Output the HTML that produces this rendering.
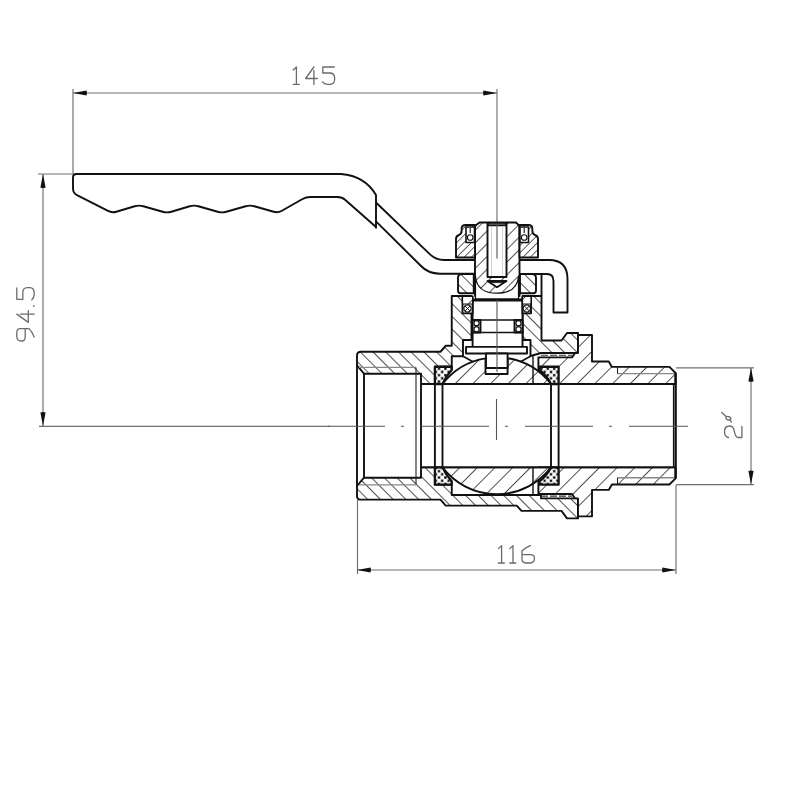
<!DOCTYPE html>
<html><head><meta charset="utf-8">
<style>html,body{margin:0;padding:0;background:#fff;}svg{display:block;}</style></head>
<body>
<svg width="800" height="800" viewBox="0 0 800 800">
<defs>
  <pattern id="hb" width="9" height="9" patternUnits="userSpaceOnUse" patternTransform="rotate(-45) translate(-3.6,0)">
    <rect x="-1" y="-1" width="11" height="11" fill="#fff"/>
    <line x1="0" y1="-1" x2="0" y2="10" stroke="#111" stroke-width="1.45"/>
  </pattern>
  <pattern id="hi" width="12.5" height="12.5" patternUnits="userSpaceOnUse" patternTransform="rotate(45) translate(5.2,0)">
    <rect x="-1" y="-1" width="14" height="14" fill="#fff"/>
    <line x1="0" y1="-1" x2="0" y2="14" stroke="#111" stroke-width="1.45"/>
  </pattern>
  <pattern id="hs" width="8.8" height="8.8" patternUnits="userSpaceOnUse" patternTransform="rotate(45)">
    <rect x="-1" y="-1" width="11" height="11" fill="#fff"/>
    <line x1="0" y1="-1" x2="0" y2="10" stroke="#111" stroke-width="1.45"/>
  </pattern>
  <pattern id="hn" width="5.2" height="5.2" patternUnits="userSpaceOnUse" patternTransform="rotate(45)">
    <rect x="-1" y="-1" width="8" height="8" fill="#fff"/>
    <line x1="0" y1="-1" x2="0" y2="7" stroke="#111" stroke-width="1.3"/>
  </pattern>
  <pattern id="hst" width="9" height="9" patternUnits="userSpaceOnUse" patternTransform="rotate(45) translate(3.3,0)">
    <rect x="-1" y="-1" width="11" height="11" fill="#fff"/>
    <line x1="0" y1="-1" x2="0" y2="10" stroke="#111" stroke-width="1.45"/>
  </pattern>
  <pattern id="hi2" width="12.5" height="12.5" patternUnits="userSpaceOnUse" patternTransform="rotate(45) translate(4.0,0)">
    <rect x="-1" y="-1" width="14" height="14" fill="#fff"/>
    <line x1="0" y1="-1" x2="0" y2="14" stroke="#111" stroke-width="1.45"/>
  </pattern>
  <pattern id="xh" width="6.4" height="6.4" patternUnits="userSpaceOnUse" patternTransform="translate(0.6,0.8)">
    <rect width="6.4" height="6.4" fill="#fff"/>
    <path d="M0,0 L6.4,6.4 M6.4,0 L0,6.4" stroke="#aaa" stroke-width="0.6"/>
    <circle cx="0" cy="0" r="1.3" fill="#111"/><circle cx="6.4" cy="0" r="1.3" fill="#111"/>
    <circle cx="0" cy="6.4" r="1.3" fill="#111"/><circle cx="6.4" cy="6.4" r="1.3" fill="#111"/>
    <circle cx="3.2" cy="3.2" r="1.3" fill="#111"/>
  </pattern>
  <path id="arr" d="M0,0 L-13.5,-2.6 Q-14.5,0 -13.5,2.6 Z" fill="#111"/>
</defs>

<g stroke="#707070" stroke-width="1.15" fill="none">
<line x1="73" y1="93" x2="497" y2="93"/>
<line x1="73" y1="89" x2="73" y2="174"/>
<line x1="43" y1="174" x2="43" y2="426"/>
<line x1="38" y1="174" x2="73" y2="174"/>
<line x1="39" y1="426.3" x2="330" y2="426.3"/>
<line x1="357.5" y1="570" x2="676" y2="570"/>
<line x1="357.5" y1="500" x2="357.5" y2="574"/>
<line x1="676" y1="485" x2="676" y2="574"/>
<line x1="751" y1="367.8" x2="751" y2="484.6"/>
<line x1="676" y1="367.8" x2="754" y2="367.8"/>
<line x1="676" y1="484.6" x2="754" y2="484.6"/>
</g>
<line x1="497" y1="89" x2="497" y2="258.5" stroke="#666" stroke-width="1.05"/>
<use href="#arr" transform="translate(73,93) rotate(180)"/>
<use href="#arr" transform="translate(497,93) rotate(0)"/>
<use href="#arr" transform="translate(43,174) rotate(-90)"/>
<use href="#arr" transform="translate(43,426) rotate(90)"/>
<use href="#arr" transform="translate(357,570) rotate(180)"/>
<use href="#arr" transform="translate(676,570) rotate(0)"/>
<use href="#arr" transform="translate(751,367.8) rotate(-90)"/>
<use href="#arr" transform="translate(751,484.6) rotate(90)"/>
<g stroke="#6a6a6a" stroke-width="1.3" fill="none" stroke-linecap="round" stroke-linejoin="round">
<path transform="translate(293.2,67)" d="M0,3 L3.2,0 L3.2,17.4 M0,17.4 L6,17.4"/>
<path transform="translate(305.6,67)" d="M8.3,0 L0,11.5 L11.7,11.5 M8.3,3.5 L8.3,17.4"/>
<path transform="translate(322.8,67)" d="M11.5,0 L0,0 L0,6 L7,6 Q11.6,6 11.8,10.5 L11.8,13 Q11.6,17.4 6.5,17.4 L5,17.4 Q2,17.4 -0.3,15"/>
<path transform="translate(498.4,545.6)" d="M0,3 L3.2,0 L3.2,17.4 M0,17.4 L6,17.4"/>
<path transform="translate(509.8,545.6)" d="M0,3 L3.2,0 L3.2,17.4 M0,17.4 L6,17.4"/>
<path transform="translate(522,545.6)" d="M8.4,0 Q3,2 0,5.1 L0,14 Q0,17.4 4,17.4 L8,17.4 Q12.4,17.4 12.4,13 L12.4,12 Q12.4,9 8,9 L0,9"/>
<path transform="translate(16.8,341) rotate(-90)" d="M4,17.4 Q9.4,15.4 12.4,12.3 L12.4,3.4 Q12.4,0 8.4,0 L4.4,0 Q0,0 0,4.4 L0,5.4 Q0,8.4 4.4,8.4 L12.4,8.4"/>
<path transform="translate(16.8,322.4) rotate(-90)" d="M8.3,0 L0,11.5 L11.7,11.5 M8.3,3.5 L8.3,17.4"/>
<path transform="translate(16.8,307) rotate(-90)" d="M0.6,16.6 L1.4,17.4"/>
<path transform="translate(16.8,299.4) rotate(-90)" d="M11.5,0 L0,0 L0,6 L7,6 Q11.6,6 11.8,10.5 L11.8,13 Q11.6,17.4 6.5,17.4 L5,17.4 Q2,17.4 -0.3,15"/>
<path transform="translate(724.5,438) rotate(-90)" d="M0.5,4 Q1,0 6.5,0 Q12,0 12,5 Q12,9 7,9.8 Q2,10.5 0.5,13 L0.5,17.4 L11.5,17.4"/>
<path transform="translate(722,421) rotate(-90)" d="M8.5,-0.2 L4.8,3.8 M1.2,7.8 L-1,9.5 M4.3,6.2 A2,1.5 -45 1 0 1.1,6.6 A2,1.5 -45 1 0 4.3,6.2"/>
</g>
<g stroke="#111" stroke-width="1.9" fill="none" stroke-linejoin="round">
<path d="M78,174 L341,174 Q365,176 376,195 L376,228.5"/>
<path d="M80,174 L76.50,174.00 Q73,174 73.00,177.50 L73.00,188.50 Q73,193 77.00,195.05 L108.00,210.95 Q112,213 116.31,211.72 L134.69,206.28 Q139,205 143.33,206.24 L162.67,211.76 Q167,213 171.31,211.72 L189.69,206.28 Q194,205 198.33,206.24 L217.67,211.76 Q222,213 226.33,211.76 L245.67,206.24 Q250,205 254.33,206.24 L273.67,211.76 Q278,213 281.91,210.77 L302.09,199.23 Q306,197 310.50,197.00 L337.50,197.00 Q342,197 345.37,199.98 L376,227"/>
<path d="M376,202.5 L430,254.4 Q436,260 444,260 L475,260"/>
<path d="M376,221.3 L420,265 Q428,273.7 440,273.7 L475,273.7"/>
<path d="M519.5,260 L549,260 Q567.5,260 567.5,279 L567.5,312.5 L553.5,312.5 L553.5,281 Q553.5,274 547,274 L519.5,274"/>
</g>
<path d="M357,365.4 L357,355.5 Q357,351.75 361,351.75 L440.5,351.75 L445.75,345.75 L451.75,345.75 L451.75,296 L471.5,296 L471.5,340 L463,340 L463,356.25 L451.75,356.25 L451.75,366.75 L434.9,366.75 L434.9,384 L421,384 L421,373.7 L364,373.7 Z" fill="url(#hb)" stroke="#111" stroke-width="1.9" stroke-linejoin="round" />
<path d="M522.6,296 L541.5,296 L541.5,340.5 L561.5,340.5 L567,333 L578,333 L578,353 L541,353 L530.5,356 L530.5,340 L522.6,340 Z" fill="url(#hb)" stroke="#111" stroke-width="1.9" stroke-linejoin="round" />
<path d="M 357,486.00 L 357,495.90 Q 357,499.65 361,499.65 L 440.5,499.65 L 445.75,505.65 L 516.7,505.65 L 521.5,510.90 L 561.5,510.90 L 567,518.40 L 578,518.40 L 578,498.40 L 541,498.40 L 541,495.00 L 451.75,495.00 L 451.75,484.65 L 434.9,484.65 L 434.9,467.40 L 421,467.40 L 421,477.70 L 364,477.70 Z" fill="url(#hb)" stroke="#111" stroke-width="1.9" stroke-linejoin="round" />
<path d="M538.4,384 L538.4,357.4 L572,357.4 L575,353 L578,353 L578,335 L592,335 L592,361.5 L608.75,361.5 L611.9,366.9 L669.4,366.9 L675.6,373 L675.6,384 Z" fill="url(#hi2)" stroke="#111" stroke-width="1.9" stroke-linejoin="round" />
<path d="M 538.4,467.40 L 538.4,494.00 L 572,494.00 L 575,498.40 L 578,498.40 L 578,516.40 L 592,516.40 L 592,489.90 L 608.75,489.90 L 611.9,484.50 L 669.4,484.50 L 675.6,478.40 L 675.6,467.40 Z" fill="url(#hi2)" stroke="#111" stroke-width="1.9" stroke-linejoin="round" />
<path d="M434.9,366.75 L451.75,366.75 L451.75,370 Q446,376 442.5,384 L434.9,384 Z" fill="url(#xh)" stroke="#111" stroke-width="2.3" stroke-linejoin="round" />
<path d="M 434.9,484.65 L 451.75,484.65 L 451.75,481.40 Q 446,475.40 442.5,467.40 L 434.9,467.40 Z" fill="url(#xh)" stroke="#111" stroke-width="2.3" stroke-linejoin="round" />
<path d="M539.5,366.75 L558.6,366.75 L558.6,384 L551,384 Q547,376 539.5,370 Z" fill="url(#xh)" stroke="#111" stroke-width="2.3" stroke-linejoin="round" />
<path d="M 539.5,484.65 L 558.6,484.65 L 558.6,467.40 L 551,467.40 Q 547,475.40 539.5,481.40 Z" fill="url(#xh)" stroke="#111" stroke-width="2.3" stroke-linejoin="round" />
<path d="M442.5,384 A68.3,68.3 0 0 1 485.5,358.33 L485.5,374 L507.6,374 L507.6,358.27 A68.3,68.3 0 0 1 551,384 Z" fill="url(#hi)" stroke="#111" stroke-width="1.9" stroke-linejoin="round" />
<path d="M442.5,467.4 A68.3,68.3 0 0 0 551,467.4 Z" fill="url(#hi)" stroke="#111" stroke-width="1.9" stroke-linejoin="round" />
<line x1="463" y1="356.25" x2="473" y2="361.8" stroke="#111" stroke-width="1.6" />
<line x1="530.5" y1="356.25" x2="520.5" y2="361.8" stroke="#111" stroke-width="1.6" />
<line x1="533" y1="355.5" x2="533" y2="384" stroke="#111" stroke-width="1.4" />
<line x1="533" y1="495.9" x2="533" y2="467.4" stroke="#111" stroke-width="1.4" />
<g stroke="#333" stroke-width="1.1" stroke-dasharray="7,2">
<line x1="541" y1="355.3" x2="572" y2="355.3" stroke="#333" stroke-width="1.1" />
<line x1="541" y1="496.09999999999997" x2="572" y2="496.09999999999997" stroke="#333" stroke-width="1.1" />
</g>
<line x1="421" y1="384" x2="421" y2="467.4" stroke="#111" stroke-width="1.9" />
<line x1="434.9" y1="384" x2="434.9" y2="467.4" stroke="#111" stroke-width="1.9" />
<line x1="442.5" y1="384" x2="442.5" y2="467.4" stroke="#111" stroke-width="1.9" />
<line x1="551" y1="384" x2="551" y2="467.4" stroke="#111" stroke-width="1.9" />
<line x1="558.6" y1="384" x2="558.6" y2="467.4" stroke="#111" stroke-width="1.9" />
<line x1="364" y1="373.7" x2="364" y2="477.7" stroke="#111" stroke-width="1.9" />
<line x1="357" y1="365" x2="357" y2="486.4" stroke="#111" stroke-width="1.9" />
<line x1="675.6" y1="373" x2="675.6" y2="478.4" stroke="#111" stroke-width="2.4" />
<line x1="673.5" y1="384" x2="673.5" y2="467.4" stroke="#111" stroke-width="1.2" />
<line x1="421" y1="384" x2="673.5" y2="384" stroke="#111" stroke-width="1.9" />
<line x1="421" y1="467.4" x2="673.5" y2="467.4" stroke="#111" stroke-width="1.9" />
<g stroke="#666" stroke-width="1.1">
<line x1="359" y1="367.3" x2="416" y2="367.3" stroke="#888" stroke-width="1.3" />
<line x1="359" y1="484.9" x2="416" y2="484.9" stroke="#888" stroke-width="1.3" />
<line x1="416" y1="367.5" x2="416" y2="483.9" stroke="#222" stroke-width="1.1" />
<line x1="617.5" y1="373.6" x2="674" y2="373.6" stroke="#888" stroke-width="1.4" />
<line x1="617.5" y1="477.79999999999995" x2="674" y2="477.79999999999995" stroke="#888" stroke-width="1.4" />
<line x1="617.5" y1="366.9" x2="617.5" y2="373.75" stroke="#222" stroke-width="1.1" />
<line x1="617.5" y1="484.5" x2="617.5" y2="477.65" stroke="#222" stroke-width="1.1" />
</g>
<path d="M475,296 L475,226 L479.5,222.5 L516,222.5 L519.5,226 L519.5,296 Z" fill="url(#hst)" stroke="#111" stroke-width="1.9" stroke-linejoin="round" />
<path d="M487.5,223 L487.5,277 L506.5,277 L506.5,223 Z" fill="#fff" stroke="#111" stroke-width="1.9" stroke-linejoin="round" />
<line x1="491.5" y1="227" x2="491.5" y2="276" stroke="#c8c8c8" stroke-width="0.8" />
<line x1="502.5" y1="227" x2="502.5" y2="276" stroke="#c8c8c8" stroke-width="0.8" />
<path d="M487.5,222.5 L506.5,222.5 L506.5,226 L487.5,226 Z" fill="#111" stroke="#111" stroke-width="0.5" stroke-linejoin="round" />
<line x1="489" y1="224.2" x2="505" y2="224.2" stroke="#777" stroke-width="1.0" />
<path d="M487.5,281 L506.5,281 L497,287.2 Z" fill="#fff" stroke="#111" stroke-width="1.8" stroke-linejoin="round" />
<path d="M488,281 L506,281 L504,282.6 L490,282.6 Z" fill="#111" stroke="#111" stroke-width="0.8" stroke-linejoin="round" />
<path d="M475.5,276.5 Q477,293.2 497,293.2 Q517,293.2 518.5,276.5 L518.5,299 L475.5,299 Z" fill="#fff" stroke="#111" stroke-width="1.2" stroke-linejoin="round" />
<path d="M472.6,300 L522.5,300 L522.5,347 L472.6,347 Z" fill="#fff" stroke="#111" stroke-width="1.9" stroke-linejoin="round" />
<line x1="472.6" y1="300" x2="522.5" y2="300" stroke="#111" stroke-width="3" />
<path d="M472.6,320 L480.5,320 L480.5,332.5 L472.6,332.5 Z" fill="#fff" stroke="#111" stroke-width="1.9" stroke-linejoin="round" />
<path d="M514.5,320 L522.5,320 L522.5,332.5 L514.5,332.5 Z" fill="#fff" stroke="#111" stroke-width="1.9" stroke-linejoin="round" />
<line x1="472.6" y1="320" x2="522.5" y2="320" stroke="#111" stroke-width="1.6" />
<line x1="472.6" y1="332.5" x2="522.5" y2="332.5" stroke="#111" stroke-width="1.6" />
<circle cx="476.5" cy="323.2" r="2.6" fill="#fff" stroke="#111" stroke-width="1.2"/>
<circle cx="476.5" cy="329.3" r="2.6" fill="#fff" stroke="#111" stroke-width="1.2"/>
<circle cx="518.5" cy="323.2" r="2.6" fill="#fff" stroke="#111" stroke-width="1.2"/>
<circle cx="518.5" cy="329.3" r="2.6" fill="#fff" stroke="#111" stroke-width="1.2"/>
<path d="M466,346.9 L527,346.9 L527,353.5 L466,353.5 Z" fill="#fff" stroke="#111" stroke-width="1.9" stroke-linejoin="round" />
<path d="M486,353.5 L507.6,353.5 L507.6,368 L486,368 Z" fill="#fff" stroke="#111" stroke-width="1.9" stroke-linejoin="round" />
<path d="M462.5,296.5 L472.6,296.5 L472.6,313.4 L462.5,313.4 Z" fill="#fff" stroke="#111" stroke-width="1.9" stroke-linejoin="round" />
<path d="M522.5,296.5 L531,296.5 L531,313.4 L522.5,313.4 Z" fill="#fff" stroke="#111" stroke-width="1.9" stroke-linejoin="round" />
<path d="M462.5,296.5 L472.6,296.5 L472.6,304 L462.5,304 Z" fill="url(#hs)" stroke="#111" stroke-width="1.2" stroke-linejoin="round" />
<path d="M522.5,296.5 L531,296.5 L531,304 L522.5,304 Z" fill="url(#hs)" stroke="#111" stroke-width="1.2" stroke-linejoin="round" />
<circle cx="467.5" cy="308.5" r="3.6" fill="#fff" stroke="#111" stroke-width="1.2"/>
<path d="M465.1,306.1 L469.9,310.9 M465.1,310.9 L469.9,306.1" stroke="#111" stroke-width="1"/>
<circle cx="526.8" cy="308.5" r="3.6" fill="#fff" stroke="#111" stroke-width="1.2"/>
<path d="M524.4,306.1 L529.1999999999999,310.9 M524.4,310.9 L529.1999999999999,306.1" stroke="#111" stroke-width="1"/>
<line x1="541.5" y1="274" x2="541.5" y2="296" stroke="#111" stroke-width="1.9" />
<path d="M456,257.5 L456,239 Q456,236 459,235 Q461.6,234 461.6,231 L461.6,229 Q461.6,225 465.5,225 L475,225 L475,257.5 Z" fill="url(#hn)" stroke="#111" stroke-width="1.9" stroke-linejoin="round" />
<path d="M538,257.5 L538,239 Q538,236 535,235 Q532.4,234 532.4,231 L532.4,229 Q532.4,225 528.5,225 L519.5,225 L519.5,257.5 Z" fill="url(#hn)" stroke="#111" stroke-width="1.9" stroke-linejoin="round" />
<path d="M466,227 L474.5,227 L474.5,242.5 L466,242.5 Z" fill="#fff" stroke="#111" stroke-width="1.6" stroke-linejoin="round" />
<path d="M520,227 L528.5,227 L528.5,242.5 L520,242.5 Z" fill="#fff" stroke="#111" stroke-width="1.6" stroke-linejoin="round" />
<line x1="470.2" y1="228" x2="470.2" y2="233" stroke="#111" stroke-width="1.1" />
<circle cx="470.2" cy="237.5" r="2.8" fill="#fff" stroke="#111" stroke-width="1.1"/>
<line x1="524.2" y1="228" x2="524.2" y2="233" stroke="#111" stroke-width="1.1" />
<circle cx="524.2" cy="237.5" r="2.8" fill="#fff" stroke="#111" stroke-width="1.1"/>
<path d="M460.5,293.2 Q458,293.2 458,290.5 L458,278 Q458,274 462,274 L473.75,274 L473.75,293.2 Z" fill="url(#hb)" stroke="#111" stroke-width="1.9" stroke-linejoin="round" />
<path d="M533.5,293.2 Q536,293.2 536,290.5 L536,278 Q536,274 532,274 L520,274 L520,293.2 Z" fill="url(#hb)" stroke="#111" stroke-width="1.9" stroke-linejoin="round" />
<g stroke="#555" stroke-width="1.1" fill="none">
<path d="M328,426.3 L688,426.3" stroke-dasharray="68,16,3,17" stroke-dashoffset="11"/>
<line x1="496.5" y1="399" x2="496.5" y2="440"/>
<line x1="497" y1="224" x2="497" y2="258.5"/>
<line x1="497" y1="300" x2="497" y2="372"/>
</g>
</svg></body></html>
